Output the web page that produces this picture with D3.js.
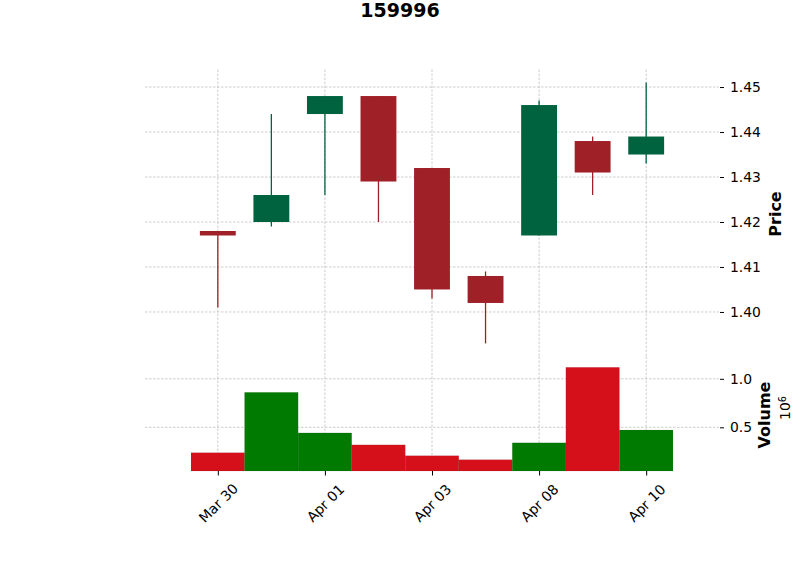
<!DOCTYPE html>
<html>
<head>
<meta charset="utf-8">
<script src="https://cdn.jsdelivr.net/npm/d3@7/dist/d3.min.js"></script>
<style>
  html, body { margin: 0; padding: 0; background: #fff; }
  svg { display: block; font-family: "DejaVu Sans", sans-serif; }
</style>
</head>
<body>
<svg id="chart" width="800" height="575"></svg>
<script>
// ---- data ----
const title = "159996";
const dates = ["Mar 30", "Mar 31", "Apr 01", "Apr 02", "Apr 03", "Apr 07", "Apr 08", "Apr 09", "Apr 10"];
const openP  = [1.418, 1.420, 1.444, 1.448, 1.432, 1.408, 1.417, 1.438, 1.435];
const highP  = [1.418, 1.444, 1.448, 1.448, 1.432, 1.409, 1.447, 1.439, 1.451];
const lowP   = [1.401, 1.419, 1.426, 1.420, 1.403, 1.393, 1.417, 1.426, 1.433];
const closeP = [1.417, 1.426, 1.448, 1.429, 1.405, 1.402, 1.446, 1.431, 1.439];
const volume = [238000, 860000, 442000, 319000, 207000, 166000, 340000, 1118000, 472000];
const priceTicks = [1.40, 1.41, 1.42, 1.43, 1.44, 1.45];
const volumeTicks = [500000, 1000000];
const xTickIdx = [0, 2, 4, 6, 8];

// ---- layout ----
const svg = d3.select("#chart");
const L = 145, R = 719, TOP = 69.5, SPLIT = 356.5, BOT = 471;
const colUpC = "#006340", colDnC = "#A02028";
const colUpV = "#007A00", colDnV = "#D5101A";
const gridCol = "#b8b8b8";

const n = dates.length;
const x = d3.scaleLinear().domain([-1.36, n - 1 + 1.36]).range([L, R]);
const minL = d3.min(lowP), maxH = d3.max(highP), pad = 0.05 * (maxH - minL);
const y = d3.scaleLinear().domain([minL - pad, maxH + pad]).range([SPLIT, TOP]);
const vy = d3.scaleLinear().domain([0.3 * d3.min(volume), 1.1 * d3.max(volume)]).range([BOT, SPLIT]);

const data = dates.map((d, i) => ({ i, d, o: openP[i], h: highP[i], l: lowP[i], c: closeP[i], v: volume[i] }));

// title
svg.append("text").attr("x", 400).attr("y", 17).attr("text-anchor", "middle")
  .attr("font-size", "19px").attr("font-weight", "bold").attr("fill", "#000").text(title);

// gridlines
const grid = svg.append("g").attr("stroke", gridCol).attr("stroke-width", 0.7).attr("stroke-dasharray", "2.5,1.5");
priceTicks.forEach(t => grid.append("line").attr("x1", L).attr("x2", R).attr("y1", y(t)).attr("y2", y(t)));
volumeTicks.forEach(t => grid.append("line").attr("x1", L).attr("x2", R).attr("y1", vy(t)).attr("y2", vy(t)));
xTickIdx.forEach(i => {
  grid.append("line").attr("x1", x(i)).attr("x2", x(i)).attr("y1", TOP).attr("y2", SPLIT);
  grid.append("line").attr("x1", x(i)).attr("x2", x(i)).attr("y1", SPLIT).attr("y2", BOT);
});

// candles
const bw = 0.335;
const cg = svg.append("g");
cg.selectAll("line.wick").data(data).enter().append("line")
  .attr("x1", d => x(d.i)).attr("x2", d => x(d.i))
  .attr("y1", d => y(d.h)).attr("y2", d => y(d.l))
  .attr("stroke", d => d.c >= d.o ? colUpC : colDnC).attr("stroke-width", 1.3);
cg.selectAll("rect.body").data(data).enter().append("rect")
  .attr("x", d => x(d.i - bw)).attr("width", d => x(d.i + bw) - x(d.i - bw))
  .attr("y", d => y(Math.max(d.o, d.c)))
  .attr("height", d => Math.max(1, y(Math.min(d.o, d.c)) - y(Math.max(d.o, d.c))))
  .attr("fill", d => d.c >= d.o ? colUpC : colDnC);

// volume bars
svg.append("g").selectAll("rect").data(data).enter().append("rect")
  .attr("x", d => x(d.i - 0.5)).attr("width", d => x(d.i + 0.5) - x(d.i - 0.5))
  .attr("y", d => vy(d.v)).attr("height", d => BOT - vy(d.v))
  .attr("fill", d => d.c >= d.o ? colUpV : colDnV)
  .attr("stroke", "rgba(0,0,0,0.15)").attr("stroke-width", 0.5);

// y axes (right)
const ayP = d3.axisRight(y).tickValues(priceTicks).tickFormat(d3.format(".2f")).tickSize(4).tickPadding(6);
const gP = svg.append("g").attr("transform", `translate(${R + 1},0)`).call(ayP);
const ayV = d3.axisRight(vy).tickValues(volumeTicks).tickFormat(v => (v / 1e6).toFixed(1)).tickSize(4).tickPadding(6);
const gV = svg.append("g").attr("transform", `translate(${R + 1},0)`).call(ayV);
[gP, gV].forEach(g => {
  g.select(".domain").remove();
  g.selectAll("text").attr("font-size", "13.9px").attr("fill", "#000").attr("font-family", "DejaVu Sans");
  g.selectAll("line").attr("stroke", "#000");
});

// x axis
const ax = d3.axisBottom(x).tickValues(xTickIdx).tickFormat(i => dates[i]).tickSize(4.5).tickPadding(0);
const gX = svg.append("g").attr("transform", `translate(0,${BOT})`).call(ax);
gX.select(".domain").remove();
gX.selectAll("line").attr("stroke", "#000");
gX.selectAll("text")
  .attr("font-size", "13.9px").attr("font-family", "DejaVu Sans").attr("fill", "#000")
  .attr("text-anchor", "middle").attr("dominant-baseline", "central")
  .attr("y", 0).attr("dy", null)
  .attr("transform", "translate(0,32) rotate(-45)");

// axis labels
svg.append("text").attr("transform", "translate(781,214) rotate(-90)").attr("text-anchor", "middle")
  .attr("font-size", "16px").attr("font-weight", "bold").attr("fill", "#000").text("Price");
svg.append("text").attr("transform", "translate(770,415) rotate(-90)").attr("text-anchor", "middle")
  .attr("font-size", "16px").attr("font-weight", "bold").attr("fill", "#000").text("Volume");
const exp = svg.append("text").attr("transform", "translate(790,408) rotate(-90)").attr("text-anchor", "middle")
  .attr("font-size", "13.9px").attr("fill", "#000");
exp.append("tspan").text("10");
exp.append("tspan").attr("dy", "-0.45em").attr("font-size", "9.7px").text("6");
</script>
</body>
</html>
